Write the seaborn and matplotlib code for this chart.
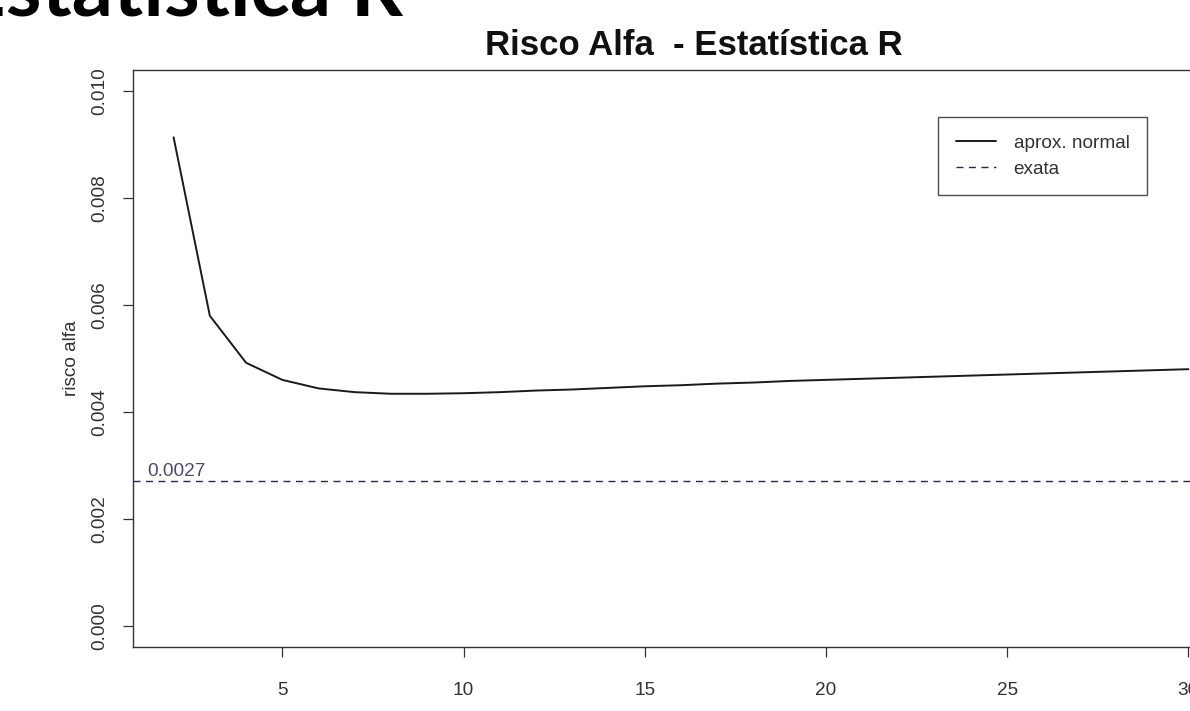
import numpy as np
import pandas as pd
import matplotlib
matplotlib.use("Agg")
import matplotlib.pyplot as plt
import seaborn as sns

# ---- data ----
n_values = list(range(2, 31))
alpha_normal = [0.00914, 0.00580, 0.00492, 0.00460, 0.00444, 0.00437, 0.00434,
                0.00434, 0.00435, 0.00437, 0.00440, 0.00442, 0.00445, 0.00448,
                0.00450, 0.00453, 0.00455, 0.00458, 0.00460, 0.00462, 0.00464,
                0.00466, 0.00468, 0.00470, 0.00472, 0.00474, 0.00476, 0.00478,
                0.00480]
alpha_exact = 0.0027
x_ticks = [5, 10, 15, 20, 25, 30]
y_ticks = [0.000, 0.002, 0.004, 0.006, 0.008, 0.010]
legend_labels = ["aprox. normal", "exata"]

sns.set_style("white")
plt.rcParams["font.family"] = ["Liberation Sans", "DejaVu Sans"]

W, H = 1190, 711
fig = plt.figure(figsize=(W / 100, H / 100), dpi=100)
left, right, top, bottom = 133, 1229, 70, 647
ax = fig.add_axes([left / W, 1 - bottom / H, (right - left) / W, (bottom - top) / H])

df = pd.DataFrame({"n": n_values, "alfa": alpha_normal})
sns.lineplot(data=df, x="n", y="alfa", ax=ax, color="#1a1a1a", linewidth=1.4,
             label=legend_labels[0])
ax.axhline(alpha_exact, color="#22227a", linestyle=(0, (5, 4)), linewidth=1.0,
           label=legend_labels[1])

xr = n_values[-1] - n_values[0]
ax.set_xlim(n_values[0] - 0.04 * xr, n_values[-1] + 0.04 * xr)
ax.set_ylim(-0.0004, 0.0104)
ax.set_xticks(x_ticks)
ax.set_yticks(y_ticks)
ax.set_xticklabels([str(v) for v in x_ticks])
ax.set_yticklabels([f"{v:.3f}" for v in y_ticks], rotation=90, va="center")

ax.tick_params(axis="both", which="major", length=7.2, width=0.9, color="#333333",
               labelsize=13.7, labelcolor="#333333", direction="out",
               bottom=True, left=True)
ax.tick_params(axis="x", pad=18)
ax.tick_params(axis="y", pad=10.5)
for s in ax.spines.values():
    s.set_color("#333333")
    s.set_linewidth(1.0)
    s.set_visible(True)

ax.set_xlabel("")
ax.set_ylabel("risco alfa", fontsize=13.7, color="#333333")
ax.yaxis.set_label_coords(-(133 - 80) / (right - left), 0.5)

ax.annotate("0.0027", xy=(ax.get_xlim()[0], alpha_exact), xytext=(10, 4),
            textcoords="offset points", fontsize=13.7, color="#4a4a72",
            ha="left", va="baseline")

leg = ax.legend(loc="upper left", bbox_to_anchor=(938 / W, 1 - 117 / H),
                bbox_transform=fig.transFigure, fontsize=13.7, frameon=True,
                fancybox=False, borderpad=0.93, handlelength=2.1,
                handletextpad=0.95, labelspacing=0.44, borderaxespad=0)
leg.get_frame().set_edgecolor("#222222")
leg.get_frame().set_linewidth(1.0)
for t in leg.get_texts():
    t.set_color("#333333")

fig.text(694 / W, 1 - 55 / H, "Risco Alfa  - Estatística R", ha="center",
         va="baseline", fontsize=25, fontweight="bold", color="#111111")

fig.text(403 / W, 1 - 16 / H, "Estatística R", ha="right", va="baseline",
         fontsize=58.5, fontweight="bold", color="#000000",
         family=["Lato", "DejaVu Sans"])

fig.savefig("out.png", dpi=100)
